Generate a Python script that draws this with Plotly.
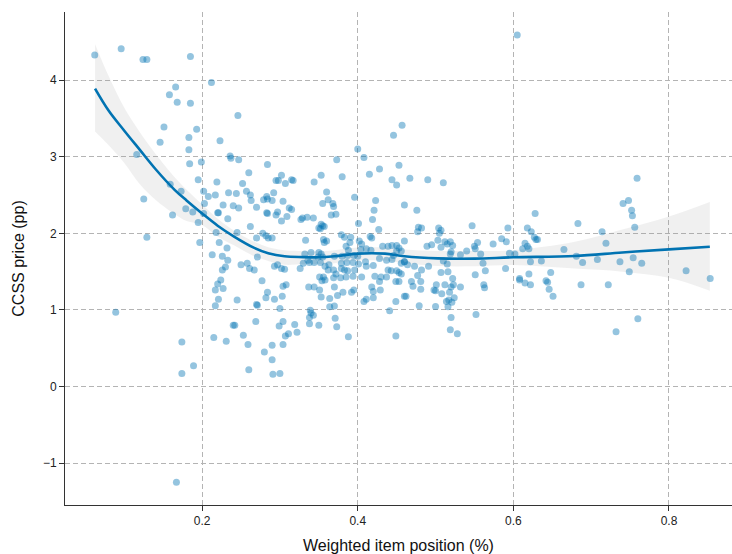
import plotly.graph_objects as go

# ---------------- data ----------------
pos_x = [
    0.062, 0.096, 0.124, 0.129, 0.185, 0.212, 0.166, 0.158, 0.168, 0.185, 0.151, 0.193, 0.183, 0.223, 0.146, 0.183,
    0.246, 0.457, 0.446, 0.400, 0.605,
    0.116, 0.184, 0.199, 0.236, 0.237, 0.195, 0.219, 0.159, 0.202, 0.173, 0.208, 0.217, 0.234, 0.125, 0.203, 0.227,
    0.240, 0.179, 0.188, 0.202, 0.220, 0.221, 0.162, 0.233, 0.195, 0.218, 0.129, 0.197, 0.222, 0.232, 0.213, 0.226,
    0.233, 0.230, 0.226, 0.224,
    0.220, 0.217, 0.227, 0.221, 0.217, 0.089, 0.240, 0.215, 0.231, 0.174, 0.189, 0.174, 0.167,
    # dense middle-upper block
    0.247, 0.284, 0.408, 0.373, 0.453, 0.428, 0.260, 0.302, 0.353, 0.380, 0.415, 0.295, 0.298, 0.315, 0.317, 0.307,
    0.344, 0.444, 0.450, 0.252, 0.257, 0.292, 0.360, 0.244, 0.262, 0.263, 0.283, 0.284, 0.279, 0.290, 0.304, 0.362,
    0.396, 0.355, 0.368, 0.423, 0.369, 0.247, 0.270, 0.312, 0.315, 0.421, 0.283, 0.284, 0.297, 0.295, 0.366, 0.372,
    0.309, 0.302, 0.327, 0.329, 0.335, 0.343, 0.419, 0.401, 0.353, 0.355, 0.350, 0.352, 0.357, 0.262, 0.427, 0.245,
    0.278, 0.282, 0.285, 0.290, 0.270, 0.333, 0.356, 0.360, 0.357, 0.379, 0.383, 0.391, 0.390, 0.385, 0.388, 0.402,
    0.405, 0.416, 0.418, 0.404, 0.411, 0.417, 0.432, 0.439, 0.444, 0.450, 0.453, 0.450, 0.456, 0.446, 0.428, 0.437,
    0.444, 0.456, 0.460, 0.439, 0.443, 0.450, 0.453, 0.456, 0.422, 0.430, 0.437, 0.332, 0.340, 0.350, 0.353, 0.355,
    0.349, 0.338, 0.344, 0.352, 0.358, 0.363, 0.370, 0.380, 0.387, 0.395, 0.400, 0.379, 0.386, 0.394, 0.401, 0.410,
    0.411, 0.420, 0.362, 0.369, 0.372, 0.379, 0.383, 0.387, 0.396, 0.351, 0.356, 0.369, 0.378, 0.385, 0.394, 0.405,
    0.250, 0.258, 0.261, 0.267, 0.271, 0.293, 0.297, 0.302, 0.306, 0.326, 0.330, 0.336,
    # lower-middle block
    0.277, 0.284, 0.282, 0.293, 0.303, 0.304, 0.308, 0.245, 0.270, 0.271, 0.300, 0.242, 0.269, 0.253, 0.259, 0.280,
    0.290, 0.290, 0.260, 0.291, 0.300, 0.304, 0.307, 0.311, 0.299, 0.304, 0.319, 0.322, 0.337, 0.344, 0.351, 0.353,
    0.354, 0.358, 0.339, 0.340, 0.343, 0.338, 0.338, 0.350, 0.364, 0.370, 0.374, 0.381, 0.370, 0.364, 0.371, 0.373,
    0.388, 0.392, 0.395, 0.408, 0.411, 0.418, 0.420, 0.420, 0.429, 0.428, 0.449, 0.453, 0.449, 0.441, 0.449, 0.460,
    # right-lower block
    0.469, 0.471, 0.481, 0.481, 0.462, 0.479, 0.500, 0.498, 0.501, 0.500, 0.508, 0.512, 0.518, 0.520, 0.523, 0.524,
    0.514, 0.517, 0.521, 0.516, 0.532, 0.562, 0.563, 0.552, 0.520, 0.519, 0.528, 0.608, 0.615, 0.622, 0.644, 0.646,
    0.651,
    # right-middle block
    0.467, 0.490, 0.510, 0.460, 0.476, 0.628, 0.547, 0.478, 0.482, 0.477, 0.504, 0.507, 0.505, 0.593, 0.618, 0.623,
    0.627, 0.631, 0.629, 0.460, 0.503, 0.507, 0.495, 0.489, 0.512, 0.515, 0.519, 0.522, 0.520, 0.519, 0.540, 0.532,
    0.550, 0.551, 0.554, 0.558, 0.574, 0.585, 0.591, 0.595, 0.602, 0.590, 0.612, 0.615, 0.618, 0.620, 0.665, 0.622,
    0.636, 0.561, 0.564, 0.551, 0.515, 0.510, 0.516, 0.507, 0.491, 0.482, 0.477, 0.473, 0.460, 0.464, 0.522, 0.608,
    0.620, 0.648, 0.642,
    # far right
    0.759, 0.741, 0.748, 0.752, 0.753, 0.756, 0.683, 0.714, 0.719, 0.681, 0.689, 0.708, 0.737, 0.754, 0.765, 0.749,
    0.822, 0.853, 0.687, 0.722, 0.760, 0.732,
]
price = [
    4.33, 4.41, 4.27, 4.27, 4.31, 3.97, 3.91, 3.81, 3.71, 3.70, 3.39, 3.36, 3.25, 3.21, 3.19, 3.09,
    3.54, 3.41, 3.28, 3.10, 4.59,
    3.03, 2.91, 2.93, 3.01, 2.98, 2.70, 2.67, 2.64, 2.55, 2.55, 2.48, 2.50, 2.53, 2.45, 2.39, 2.37,
    2.36, 2.32, 2.28, 2.26, 2.27, 2.27, 2.24, 2.19, 2.14, 2.01, 1.95, 1.88, 1.88, 1.81, 1.72, 1.70,
    1.65, 1.56, 1.52, 1.39,
    1.34, 1.26, 1.28, 1.14, 1.055, 0.97, 0.80, 0.64, 0.59, 0.58, 0.27, 0.17, -1.25,
    # dense middle-upper block
    2.96, 2.90, 2.99, 2.96, 2.89, 2.84, 2.79, 2.76, 2.76, 2.74, 2.77, 2.69, 2.69, 2.70, 2.69, 2.65,
    2.67, 2.70, 2.63, 2.65, 2.55, 2.53, 2.54, 2.52, 2.50, 2.43, 2.48, 2.45, 2.44, 2.43, 2.42, 2.44,
    2.47, 2.39, 2.39, 2.43, 2.35, 2.33, 2.34, 2.33, 2.31, 2.30, 2.27, 2.26, 2.28, 2.24, 2.24, 2.25,
    2.22, 2.16, 2.18, 2.20, 2.21, 2.20, 2.18, 2.13, 2.12, 2.10, 2.07, 2.06, 2.09, 2.09, 2.05, 2.01,
    2.00, 1.97, 1.94, 1.94, 1.94, 1.91, 1.92, 1.90, 1.88, 1.98, 1.95, 1.95, 1.88, 1.83, 1.78, 1.90,
    1.86, 1.96, 1.94, 1.79, 1.80, 1.78, 1.83, 1.83, 1.84, 1.84, 1.81, 1.77, 1.77, 1.71, 1.67, 1.65,
    1.66, 1.61, 1.63, 1.52, 1.51, 1.51, 1.49, 1.47, 1.44, 1.43, 1.43, 1.73, 1.75, 1.75, 1.73, 1.69,
    1.69, 1.62, 1.62, 1.62, 1.57, 1.59, 1.70, 1.70, 1.71, 1.71, 1.70, 1.61, 1.62, 1.62, 1.60, 1.63,
    1.57, 1.58, 1.52, 1.52, 1.47, 1.54, 1.52, 1.51, 1.52, 1.43, 1.43, 1.42, 1.42, 1.43, 1.44, 1.43,
    1.59, 1.61, 1.54, 1.52, 1.69, 1.57, 1.59, 1.54, 1.53, 1.54, 1.61, 1.65,
    # lower-middle block
    1.38, 1.23, 1.16, 1.14, 1.18, 1.31, 1.33, 1.13, 1.07, 1.06, 1.02, 0.80, 0.85, 0.67, 0.55, 0.45,
    0.54, 0.35, 0.22, 0.16, 0.17, 0.55, 0.66, 0.69, 0.79, 0.85, 0.81, 0.71, 1.30, 1.30, 1.26, 1.17,
    1.38, 1.39, 0.995, 0.96, 0.93, 0.90, 0.82, 0.80, 1.15, 1.30, 1.19, 1.23, 1.05, 1.04, 0.89, 0.78,
    0.65, 1.23, 1.26, 1.11, 1.14, 1.30, 1.16, 1.24, 1.26, 1.37, 1.37, 1.37, 1.11, 0.99, 0.66, 1.18,
    # right-lower block
    1.37, 1.31, 1.37, 1.27, 1.18, 1.055, 1.045, 1.26, 1.33, 1.25, 1.21, 1.33, 1.23, 1.30, 1.33, 1.16,
    1.11, 1.13, 1.10, 1.04, 1.30, 1.33, 1.29, 0.94, 0.90, 0.74, 0.69, 1.39, 1.35, 1.33, 1.36, 1.27,
    1.18,
    # right-middle block
    2.72, 2.70, 2.66, 2.37, 2.30, 2.26, 2.10, 2.08, 2.07, 2.02, 2.07, 2.04, 2.00, 2.07, 2.07, 2.02,
    1.95, 1.92, 1.92, 1.90, 1.91, 1.82, 1.85, 1.83, 1.89, 1.86, 1.89, 1.84, 1.76, 1.73, 1.77, 1.72,
    1.83, 1.80, 1.88, 1.73, 1.86, 1.93, 1.89, 1.74, 1.73, 1.54, 1.80, 1.87, 1.83, 1.80, 1.79, 1.63,
    1.64, 1.61, 1.51, 1.46, 1.60, 1.64, 1.50, 1.49, 1.57, 1.52, 1.45, 1.57, 1.63, 1.59, 1.41, 1.41,
    1.47, 1.49, 1.38,
    # far right
    2.72, 2.39, 2.43, 2.30, 2.23, 2.08, 2.13, 2.02, 1.87, 1.70, 1.62, 1.66, 1.63, 1.68, 1.61, 1.50,
    1.51, 1.41, 1.33, 1.33, 0.885, 0.715,
]

# fitted smooth curve and its confidence band
fit_x = [0.0624, 0.08, 0.10, 0.12, 0.14, 0.165, 0.18, 0.20, 0.22, 0.2416, 0.267, 0.285, 0.306, 0.33, 0.349,
         0.37, 0.40, 0.435, 0.46, 0.503, 0.55, 0.60, 0.679, 0.74, 0.80, 0.8525]
fit_y = [3.89, 3.60, 3.34, 3.09, 2.84, 2.565, 2.43, 2.26, 2.10, 1.955, 1.81, 1.74, 1.70, 1.69, 1.687,
         1.70, 1.735, 1.735, 1.70, 1.673, 1.67, 1.687, 1.704, 1.75, 1.79, 1.825]
fit_hi = [4.47, 4.05, 3.64, 3.32, 3.04, 2.73, 2.57, 2.38, 2.19, 2.03, 1.89, 1.82, 1.78, 1.77, 1.765,
          1.78, 1.815, 1.815, 1.79, 1.77, 1.77, 1.78, 1.89, 2.05, 2.22, 2.41]
fit_lo = [3.33, 3.15, 2.92, 2.64, 2.44, 2.25, 2.16, 2.11, 1.96, 1.84, 1.70, 1.64, 1.59, 1.60, 1.60,
          1.61, 1.645, 1.645, 1.61, 1.573, 1.57, 1.587, 1.54, 1.50, 1.42, 1.25]

x_ticks = [0.2, 0.4, 0.6, 0.8]
x_tick_labels = ["0.2", "0.4", "0.6", "0.8"]
y_ticks = [-1, 0, 1, 2, 3, 4]
y_tick_labels = ["\u22121", "0", "1", "2", "3", "4"]

BLUE = "rgb(1,115,178)"
FONT = "Liberation Sans, Arial, sans-serif"

fig = go.Figure()

# confidence band
fig.add_trace(go.Scatter(x=fit_x, y=fit_hi, mode="lines", line=dict(width=0, shape="spline"),
                         hoverinfo="skip", showlegend=False))
fig.add_trace(go.Scatter(x=fit_x, y=fit_lo, mode="lines", line=dict(width=0, shape="spline"),
                         fill="tonexty", fillcolor="rgba(150,150,150,0.14)",
                         hoverinfo="skip", showlegend=False))

# scatter points
fig.add_trace(go.Scatter(x=pos_x, y=price, mode="markers",
                         marker=dict(size=7, color="rgba(1,115,178,0.42)", line=dict(width=0)),
                         showlegend=False))

# fit line
fig.add_trace(go.Scatter(x=fit_x, y=fit_y, mode="lines",
                         line=dict(color=BLUE, width=2.6, shape="spline"), showlegend=False))

axis_common = dict(
    showline=True, linecolor="#333333", linewidth=1,
    ticks="outside", ticklen=5, tickwidth=1, tickcolor="#333333",
    showgrid=True, gridcolor="#b4b4b4", gridwidth=1, griddash="5px,3px",
    zeroline=False, tickfont=dict(family=FONT, size=12, color="#222222"),
)

fig.update_xaxes(range=[0.0238, 0.881], tickvals=x_ticks, ticktext=x_tick_labels,
                 title=dict(text="Weighted item position (%)", font=dict(family=FONT, size=16, color="#111111"),
                            standoff=12),
                 **axis_common)
fig.update_yaxes(range=[-1.547, 4.89], tickvals=y_ticks, ticktext=y_tick_labels,
                 title=dict(text="CCSS price (pp)", font=dict(family=FONT, size=16, color="#111111"),
                            standoff=14),
                 **axis_common)

fig.update_layout(
    width=732, height=554,
    margin=dict(l=65, r=0, t=12, b=49),
    plot_bgcolor="white", paper_bgcolor="white",
    font=dict(family=FONT),
)

fig.write_html("out.html")
